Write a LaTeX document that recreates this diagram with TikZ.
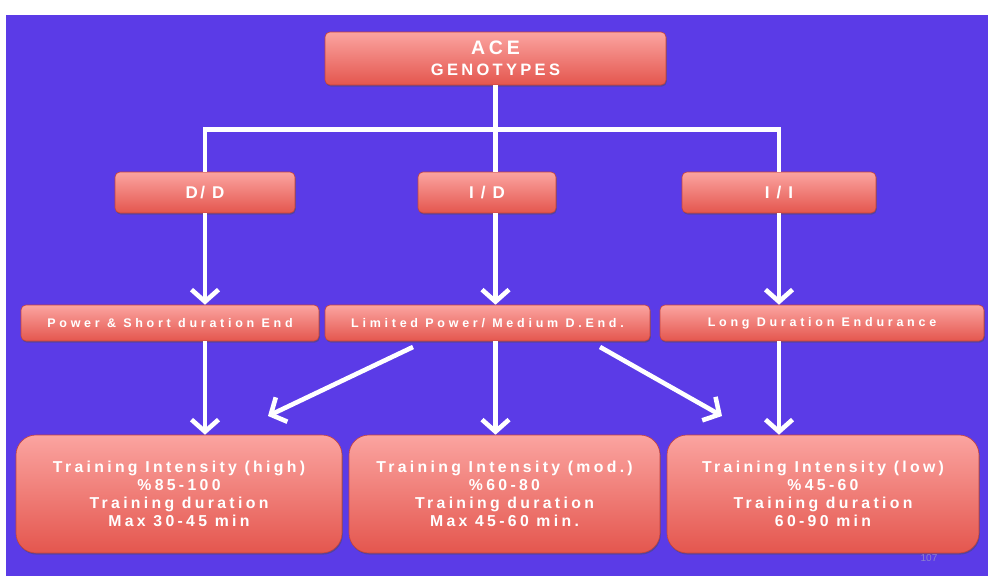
\documentclass[tikz,border=0pt]{standalone}
\usepackage{fontspec}
\setmainfont{Liberation Sans}
\newfontfamily\fa[LetterSpace=20]{Liberation Sans}
\newfontfamily\fb[LetterSpace=14]{Liberation Sans}
\newfontfamily\fc[LetterSpace=30]{Liberation Sans}
\newfontfamily\fd[LetterSpace=21]{Liberation Sans}
\usetikzlibrary{arrows.meta,shadows}
\definecolor{bgpurple}{RGB}{91,59,231}
\definecolor{boxtop}{RGB}{251,164,160}
\definecolor{boxbot}{RGB}{228,86,78}
\definecolor{boxedge}{RGB}{196,66,60}
\definecolor{pagenum}{RGB}{140,128,205}
\tikzset{
  box/.style={rectangle, rounded corners=#1, top color=boxtop, bottom color=boxbot,
    draw=boxedge, line width=0.6pt, text=white, align=center,
    inner sep=0pt,
    drop shadow={shadow xshift=0.8pt, shadow yshift=-1.6pt, opacity=0.45, fill=black!70}},
  box/.default=5pt,
  wline/.style={draw=white, line width=4.6pt},
  arr/.style={wline, -{Straight Barb[length=12pt,width=27pt,line width=4.6pt]}}
}
\begin{document}
\begin{tikzpicture}[x=1pt,y=-1pt]
\useasboundingbox (0,0) rectangle (988,576);
\fill[white] (0,0) rectangle (988,576);
\fill[bgpurple] (6,15) rectangle (988,576);

% top
\node[box, minimum width=341pt, minimum height=53pt,
  font=\fa\bfseries\fontsize{16.5}{21}\selectfont] (ace) at (495.5,58.5)
  {{\fontsize{19.5}{21}\selectfont ACE}\\GENOTYPES};

% genotypes
\tikzset{gbox/.style={box, minimum height=41pt, font=\fb\bfseries\fontsize{17}{18}\selectfont}}
\node[gbox, minimum width=180pt] (dd) at (205,192.5) {D/ D};
\node[gbox, minimum width=138pt] (id) at (487,192.5) {I / D};
\node[gbox, minimum width=194pt] (ii) at (779,192.5) {I / I};

% capacity
\tikzset{cbox/.style={box, minimum height=36pt, font=\fc\bfseries\fontsize{12.5}{13}\selectfont}}
\node[cbox, minimum width=298pt] (pow) at (170,323) {Power \&\ Short duration End};
\node[cbox, minimum width=325pt] (lim) at (487.5,323) {Limited Power/ Medium D.End.};
\node[cbox, minimum width=324pt] (lng) at (822,323) {Long Duration Endurance};

% training
\tikzset{tbox/.style={box=20pt, minimum height=118pt, font=\fd\bfseries\fontsize{15.8}{18}\selectfont}}
\node[tbox, minimum width=326pt] (high) at (179,494)
  {Training Intensity (high)\\\%85-100\\Training duration\\Max 30-45 min};
\node[tbox, minimum width=311pt] (mod) at (504.5,494)
  {Training Intensity (mod.)\\\%60-80\\Training duration\\Max 45-60 min.};
\node[tbox, minimum width=312pt] (low) at (823,494)
  {Training Intensity (low)\\\%45-60\\Training duration\\60-90 min};

\node[text=pagenum, font=\fontsize{10}{11}\selectfont] (pg) at (929,558) {107};

% tree lines
\coordinate (bus) at (0,129.5);
\draw[wline] (ace.south) -- (ace.south |- id.north);
\draw[wline, line join=miter] (dd.north) -- (dd.north |- bus) -- (ii.north |- bus) -- (ii.north);

% arrows genotype -> capacity
\draw[arr] (dd.south) -- (dd.south |- pow.north);
\draw[arr] (ace.south |- id.south) -- (ace.south |- lim.north);
\draw[arr] (ii.south) -- (ii.south |- lng.north);

% arrows capacity -> training
\draw[arr] (dd.south |- pow.south) -- (dd.south |- high.north);
\draw[arr] (ace.south |- lim.south) -- (ace.south |- mod.north);
\draw[arr] (ii.south |- lng.south) -- (ii.south |- low.north);

\coordinate (d1s) at (413,347);
\coordinate (d1e) at (268,416);
\coordinate (d2s) at (600,347);
\coordinate (d2e) at (722,416);
\draw[arr] (d1s) -- (d1e);
\draw[arr] (d2s) -- (d2e);
\end{tikzpicture}
\end{document}
